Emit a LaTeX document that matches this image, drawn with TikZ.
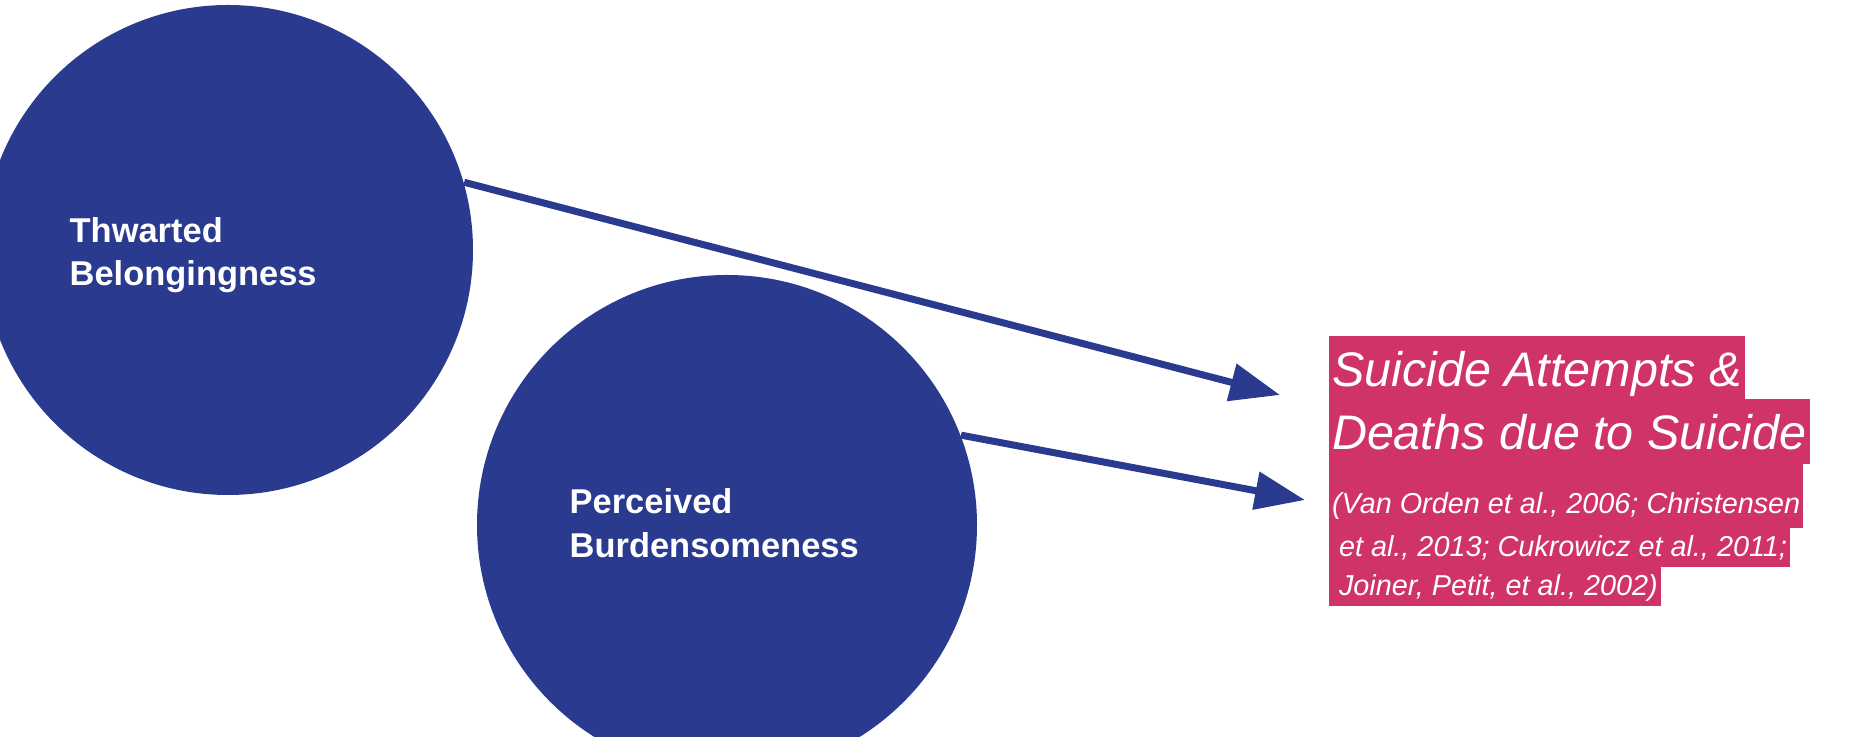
\documentclass[tikz,border=0pt]{standalone}
\usepackage{fontspec}
\setmainfont{Liberation Sans}
\definecolor{bubbleblue}{RGB}{42,58,143}
\definecolor{hlpink}{RGB}{208,51,102}
\usetikzlibrary{positioning, arrows.meta}

\begin{document}
\begin{tikzpicture}[
  bubble/.style={circle, fill=bubbleblue, inner sep=0pt, minimum size=4.9cm},
  lbl/.style={text=white, font=\fontsize{9.8}{12.4}\selectfont\bfseries,
    align=left, inner sep=0pt},
  conn/.style={draw=bubbleblue, line width=0.07cm,
    -{Triangle[length=0.5cm, width=0.37cm]}},
  hl/.style={fill=hlpink, draw=hlpink, line width=0.6pt, text=white,
    inner xsep=0.02cm, inner ysep=0pt, outer sep=0pt},
  headline/.style={hl, font=\fontsize{13.8}{18.1}\selectfont\itshape,
    text height=0.50cm, text depth=0.13cm},
  citeline/.style={hl, font=\fontsize{8.2}{11}\selectfont\itshape,
    text height=0.30cm, text depth=0.09cm},
  node distance=0pt,
]
  \useasboundingbox (0,0) rectangle (18.49,-7.37);
  \node[bubble] (tb) at (2.28,-2.50) {};
  \node[lbl, anchor=west] (tbl) at ([xshift=-1.59cm,yshift=-0.05cm]tb.center) {Thwarted\\Belongingness};
  \node[bubble, minimum size=5cm] (pb) at (7.27,-5.25) {};
  \node[lbl, anchor=west] (pbl) at ([xshift=-1.58cm,yshift=0.02cm]pb.center) {Perceived\\Burdensomeness};

  \node[headline, anchor=north west] (h1) at (13.30,-3.37) {Suicide Attempts \&};
  \node[headline, below right=0pt and 0pt of h1.south west] (h2) {Deaths due to Suicide};
  \node[citeline, text height=0.51cm, text depth=0.13cm, below right=0pt and 0pt of h2.south west] (c1) {(Van Orden et al., 2006; Christensen};
  \node[citeline, below right=0pt and 0pt of c1.south west] (c2) {\hspace{0.07cm}et al., 2013; Cukrowicz et al., 2011;};
  \node[citeline, below right=0pt and 0pt of c2.south west] (c3) {\hspace{0.07cm}Joiner, Petit, et al., 2002)};

  \coordinate (t1) at (12.80,-3.95);
  \coordinate (t2) at (13.05,-5.00);
  \draw[conn] (tb.16) -- (t1);
  \draw[conn] (pb.21) -- (t2);
\end{tikzpicture}
\end{document}
